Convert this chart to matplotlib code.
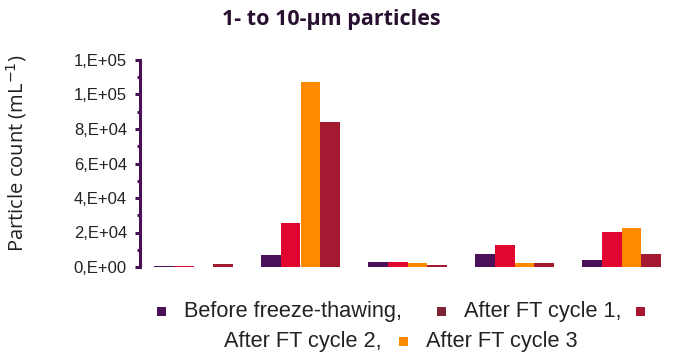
import numpy as np
import matplotlib
matplotlib.use("Agg")
import matplotlib.pyplot as plt
from matplotlib.ticker import MultipleLocator, FuncFormatter
from matplotlib.offsetbox import TextArea, DrawingArea, HPacker, AnchoredOffsetbox
from matplotlib.patches import Rectangle

# ---- data ----
groups = ["G1", "G2", "G3", "G4", "G5"]
before = [400, 7000, 2700, 7500, 4200]
bar_red = [800, 25300, 3100, 12900, 20100]
bar_orange = [0, 107500, 2500, 2500, 22800]
bar_maroon = [1500, 84000, 1200, 2500, 7500]
series = [before, bar_red, bar_orange, bar_maroon]
bar_colors = ["#4A1158", "#E0062F", "#FF8A00", "#A41A30"]

legend_labels = ["Before freeze-thawing,", "After FT cycle 1,", "After FT cycle 2,", "After FT cycle 3"]
legend_colors = ["#4A1158", "#7B2433", "#A8172F", "#FF8A00"]

title = "1- to 10-\u00b5m particles"
ylabel = "Particle count (mL$^{-1}$)"
y_max = 120000
y_major = 20000
y_minor = 10000

PX = 72 / 100  # points per pixel

# ---- figure ----
fig = plt.figure(figsize=(6.73, 3.6), dpi=100)
ax = fig.add_axes([140/673, 1-267/360, 535/673, (267-60)/360])

x = np.arange(len(groups))
n = len(series)
bw = 0.73 / n
for i, (vals, c) in enumerate(zip(series, bar_colors)):
    ax.bar(x + (i - (n-1)/2) * bw, vals, width=bw, color=c, linewidth=0)

ax.set_xlim(-0.5, len(groups) - 0.5)
ax.set_ylim(0, y_max)
ax.yaxis.set_major_locator(MultipleLocator(y_major))
ax.yaxis.set_minor_locator(MultipleLocator(y_minor))

def fmt(v, pos):
    if v == 0:
        return "0,E+00"
    e = int(np.floor(np.log10(abs(v))))
    m = v / 10**e
    return f"{int(round(m))},E+{e:02d}" if m < 9.5 else f"1,E+{e+1:02d}"
ax.yaxis.set_major_formatter(FuncFormatter(fmt))

spine_c = "#4A1158"
for s in ["top", "right", "bottom"]:
    ax.spines[s].set_visible(False)
ax.spines["left"].set_color(spine_c)
ax.spines["left"].set_linewidth(2.2)
ax.tick_params(axis="y", which="major", length=5*PX, width=2.2, color=spine_c,
               labelsize=12, labelcolor="#222222", pad=8*PX)
ax.tick_params(axis="y", which="minor", length=3*PX, width=2.2, color=spine_c)
ax.tick_params(axis="x", bottom=False, labelbottom=False)
for t in ax.get_yticklabels():
    t.set_family(["Liberation Sans", "DejaVu Sans"])

fig.text(17/673, 1-153/360, ylabel, rotation=90, ha="center", va="center",
         fontsize=14.5, family=["Open Sans", "DejaVu Sans"], color="#222222")

fig.text(331/673, 1-20/360, title, ha="center", va="center", fontsize=15.5,
         fontweight="bold", family=["Open Sans", "DejaVu Sans"], color="#2A1030")

# ---- Excel-style wrapped legend ----
tp = dict(fontsize=15.7, family=["Liberation Sans", "DejaVu Sans"], color="#222222")
SQ = 9 * PX

def sq(c):
    d = DrawingArea(SQ, SQ, 0, 0)
    d.add_artist(Rectangle((0, 0), SQ, SQ, facecolor=c, edgecolor="none"))
    return d

def entry(c, label):
    return HPacker(children=[sq(c), TextArea(label, textprops=tp)],
                   sep=18*PX, align="center", pad=0)

line1 = HPacker(children=[
    entry(legend_colors[0], legend_labels[0]),
    HPacker(children=[entry(legend_colors[1], legend_labels[1]), sq(legend_colors[2])],
            sep=14*PX, align="center", pad=0)],
    align="center", pad=0, sep=35*PX)
line2 = HPacker(children=[
    TextArea(legend_labels[2], textprops=tp),
    entry(legend_colors[3], legend_labels[3])],
    align="center", pad=0, sep=17*PX)

for line, yc in [(line1, 311), (line2, 341)]:
    anch = AnchoredOffsetbox(loc="center", child=line, pad=0, frameon=False,
                             bbox_to_anchor=(401/673, 1-yc/360),
                             bbox_transform=fig.transFigure)
    fig.add_artist(anch)

fig.savefig("out.png", dpi=100)
